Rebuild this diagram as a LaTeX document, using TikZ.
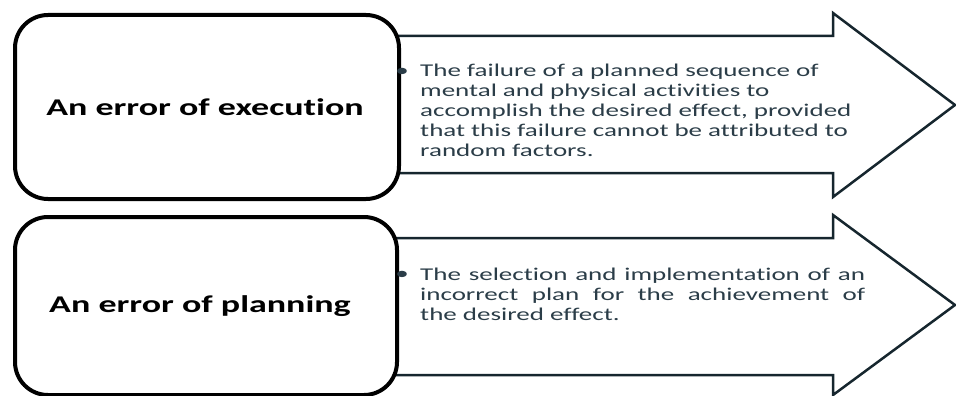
\documentclass[tikz,border=0pt]{standalone}
\usepackage{fontspec}
\setmainfont{Carlito}[FakeStretch=1.5, Ligatures=NoCommon]
\definecolor{arrowedge}{HTML}{16262E}
\definecolor{bodytext}{HTML}{2B3D48}

\begin{document}
\begin{tikzpicture}[x=1pt, y=-1pt,
    every node/.style={inner sep=0pt},
    errbox/.style={draw=black, line width=4pt, fill=white, rounded corners=33pt, anchor=north west},
    bigarrow/.style={draw=arrowedge, line width=2.5pt, fill=white, line join=miter},
    headfont/.style={font=\fontsize{24}{28}\selectfont\bfseries, text=black, anchor=base},
    bodyfont/.style={font=\fontsize{18}{20}\selectfont, text=bodytext}]
    \useasboundingbox (0,0) rectangle (956,396);

    % TOP: error of execution
    \begin{scope}
        % Arrow (tail hidden under the box)
        \draw[bigarrow] (380,36) -- (833,36) -- (833,13) -- (955,105)
            -- (833,197) -- (833,173) -- (380,173) -- cycle;
        \node[errbox, minimum width=384, minimum height=184] (execbox) at (13,13) {};
        \node[headfont] (execlabel) at (205,115) {An error of execution};
        % Definition
        \node[bodyfont] (execdot) at (402,72) {\textbullet};
        \node[bodyfont, anchor=base west, text width=460, align=left] (exectext) at (420,77)
            {The failure of a planned sequence of\\
             mental and physical activities to\\
             accomplish the desired effect, provided\\
             that this failure cannot be attributed to\\
             random factors.};
    \end{scope}

    % BOTTOM: error of planning
    \begin{scope}[shift={(0,202)}]
        \draw[bigarrow] (380,36) -- (833,36) -- (833,13) -- (955,103)
            -- (833,193) -- (833,173) -- (380,173) -- cycle;
        \node[errbox, minimum width=382, minimum height=178] (planbox) at (13,13) {};
        \node[headfont] (planlabel) at (200,110) {An error of planning};
        % Definition
        \node[bodyfont] (plandot) at (402,73) {\textbullet};
        \node[bodyfont, anchor=base west, text width=445, align=justify] (plantext) at (420,78)
            {The selection and implementation of an\linebreak
             incorrect plan for the achievement of\linebreak
             the desired effect.};
    \end{scope}
\end{tikzpicture}
\end{document}
